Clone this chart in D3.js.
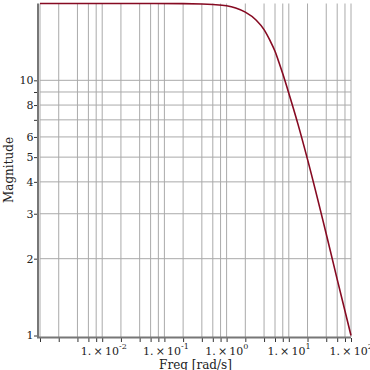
<!DOCTYPE html>
<html>
<head>
<meta charset="utf-8">
<script src="https://cdn.jsdelivr.net/npm/d3@7"></script>
<style>
  body { margin: 0; background: #fff; }
  text { font-family: "DejaVu Serif", serif; fill: #222; }
</style>
</head>
<body>
<div id="chart"></div>
<script>
// values
const freq = [0.0005, 0.001, 0.01, 0.1, 0.2, 0.3, 0.5, 0.7, 1, 1.5, 2, 2.5, 3, 3.5, 4, 5, 7, 10, 20, 30, 50];
const mag  = [20, 20, 20, 19.98, 19.92, 19.82, 19.6, 19.2, 18.5, 17.2, 15.8, 14.3, 13.0, 11.7, 10.6, 8.9, 6.75, 4.9, 2.5, 1.66, 1.0];
const xDecades = [0.001, 0.01, 0.1, 1, 10, 100];
const xDecadeLabels = ["-3", "-2", "-1", "0", "1", "2"];
const xMinorMult = [2, 3, 4, 5];
const yTicks = [1, 2, 3, 4, 5, 6, 7, 8, 9, 10];
const yTickLabels = ["1", "2", "3", "4", "5", "6", "", "8", "", "10"];

const W = 370, H = 370;
const x = d3.scaleLog().domain([0.0005, 50]).range([40, 351]);
const y = d3.scaleLog().domain([1, 20]).range([335.5, 3.5]);

const svg = d3.select("#chart").append("svg").attr("width", W).attr("height", H);

// all vertical grid positions: decades and their 2,3,4,5 multiples
let xGrid = [];
[0.0001].concat(xDecades).forEach(function(d) {
  [1].concat(xMinorMult).forEach(function(m) {
    const v = d * m;
    if (v >= 0.0005 * 0.999 && v <= 50 * 1.001) xGrid.push(v);
  });
});

// grid
svg.append("g").selectAll("line.vg").data(xGrid).enter().append("line")
   .attr("x1", d => x(d)).attr("x2", d => x(d))
   .attr("y1", y(20)).attr("y2", 337)
   .attr("stroke", "#aaa").attr("stroke-width", 1);
svg.append("g").selectAll("line.hg").data(yTicks.slice(1)).enter().append("line")
   .attr("x1", 40).attr("x2", 351)
   .attr("y1", d => y(d)).attr("y2", d => y(d))
   .attr("stroke", "#aaa").attr("stroke-width", 1);

// axes
const xAxis = d3.axisBottom(x).tickValues(xGrid).tickFormat("").tickSize(4).tickSizeOuter(0);
svg.append("g").attr("transform", "translate(0,338)").call(xAxis)
   .call(g => g.select(".domain").remove())
   .call(g => g.selectAll(".tick line").attr("stroke", "#333"));
const yAxis = d3.axisLeft(y).tickValues(yTicks).tickFormat("").tickSize(4).tickSizeOuter(0);
svg.append("g").attr("transform", "translate(38,0)").call(yAxis)
   .call(g => g.select(".domain").remove())
   .call(g => g.selectAll(".tick line").attr("stroke", "#333"));

svg.append("line").attr("x1", 38).attr("x2", 38).attr("y1", y(20)).attr("y2", 338)
   .attr("stroke", "#777").attr("stroke-width", 2);
svg.append("line").attr("x1", 37).attr("x2", 351).attr("y1", 337.5).attr("y2", 337.5)
   .attr("stroke", "#777").attr("stroke-width", 2);

// y tick labels
svg.append("g").selectAll("text").data(yTicks).enter().append("text")
   .attr("x", 33.5).attr("y", d => y(d)).attr("dy", "0.35em")
   .attr("text-anchor", "end").attr("font-size", 11)
   .text((d, i) => yTickLabels[i]);

// x tick labels: "1.×10" then superscript exponent
const xl = svg.append("g").selectAll("g").data(xDecades.slice(1)).enter().append("g");
xl.append("text")
  .attr("x", d => x(d) - 2).attr("y", 355)
  .attr("text-anchor", "end").attr("font-size", 11)
  .text("1.\u2009\u00d7\u200910");
xl.append("text")
  .attr("x", d => x(d) - 2).attr("y", 348.5)
  .attr("font-size", 8)
  .text((d, i) => xDecadeLabels[i + 1]);

// curve
const line = d3.line().x((d, i) => x(freq[i])).y(d => y(d)).curve(d3.curveMonotoneX);
svg.append("path").datum(mag).attr("d", line)
   .attr("fill", "none").attr("stroke", "#860a22").attr("stroke-width", 1.6);

// axis titles
svg.append("text").attr("x", 195.5).attr("y", 368.5).attr("text-anchor", "middle")
   .attr("font-size", 12).text("Freq [rad/s]");
svg.append("text").attr("transform", "translate(13,170) rotate(-90)")
   .attr("text-anchor", "middle").attr("font-size", 12).text("Magnitude");
</script>
</body>
</html>
